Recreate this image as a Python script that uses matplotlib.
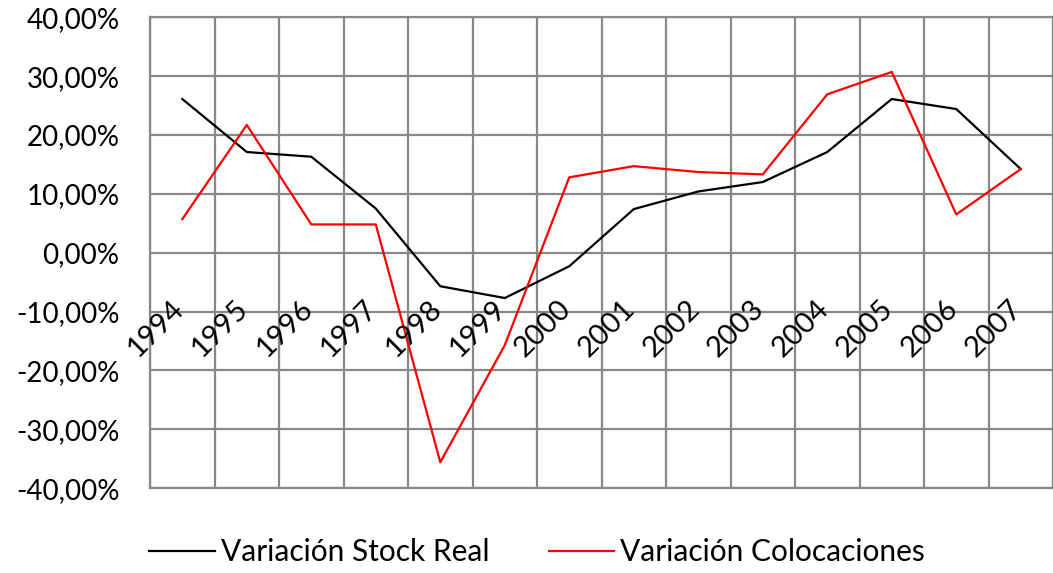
import numpy as np
import matplotlib.pyplot as plt
from matplotlib.ticker import FuncFormatter

# years on the category axis
years = ['1994', '1995', '1996', '1997', '1998', '1999', '2000',
         '2001', '2002', '2003', '2004', '2005', '2006', '2007']

# yearly variation, in percent
stock_real = [26.1, 17.1, 16.3, 7.5, -5.7, -7.7, -2.3,
              7.4, 10.4, 12.0, 17.1, 26.1, 24.4, 14.2]
colocaciones = [5.7, 21.7, 4.8, 4.8, -35.6, -15.7, 12.8,
                14.7, 13.7, 13.3, 26.9, 30.7, 6.5, 14.2]

plt.rcParams['font.family'] = ['Lato', 'DejaVu Sans']

fig = plt.figure(figsize=(10.53, 5.73), dpi=100)
ax = fig.add_axes([0.1425, 0.148, 0.8575, 0.822])

x = np.arange(len(years))
ax.plot(x, stock_real, color='black', lw=1.6, label='Variación Stock Real')
ax.plot(x, colocaciones, color='#ff0000', lw=1.6, label='Variación Colocaciones')

ax.set_xlim(-0.5, len(years) - 0.5)
ax.set_ylim(-40, 40)
ax.set_yticks(np.arange(-40, 41, 10))
ax.yaxis.set_major_formatter(FuncFormatter(lambda v, p: f'{v:.2f}%'.replace('.', ',')))
ax.tick_params(axis='y', length=0, pad=22, labelsize=20)

# vertical grid on category boundaries
ax.set_xticks(np.arange(-0.5, len(years), 1.0))
ax.set_xticklabels([])
ax.tick_params(axis='x', length=0)
ax.grid(True, color='#888888', lw=1.6)
ax.set_axisbelow(True)
for s in ax.spines.values():
    s.set_color('#888888')
    s.set_linewidth(1.6)

# rotated year labels sitting inside the plot, below the zero line
for i, yr in enumerate(years):
    ax.text(i + 0.1, -7.2, yr, rotation=45, ha='right', va='top', fontsize=21)

fig.legend(loc='lower center', ncol=2, frameon=False, fontsize=21.5,
           handlelength=2.2, columnspacing=2.0, handletextpad=0.2,
           bbox_to_anchor=(0.51, -0.035))

fig.savefig('out.png', dpi=100)
